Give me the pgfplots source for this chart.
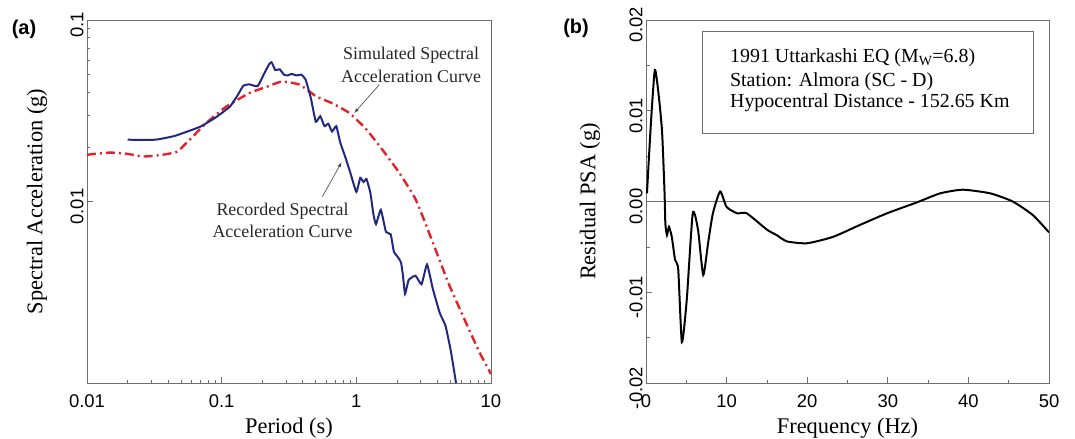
\documentclass[border=0pt]{standalone}
\usepackage{fontspec}
\setmainfont{Liberation Serif}
\setsansfont{Liberation Sans}
\usepackage{pgfplots}
\pgfplotsset{compat=1.18}

\definecolor{recblue}{RGB}{32,40,128}
\definecolor{simred}{RGB}{230,34,40}
\definecolor{axgray}{RGB}{110,110,110}

\pgfplotsset{
  panel/.style={
    scale only axis,
    width=404bp, height=363bp,
    axis line style={axgray, line width=0.9pt},
    tick style={axgray, line width=0.7pt},
    tick align=inside,
    tick pos=left,
    major tick length=6bp,
    minor tick length=3.5bp,
    /pgf/number format/assume math mode=true,
    ticklabel style={font=\fontsize{18.5}{18.5}\sffamily},
    xticklabel style={yshift=-8bp},
    yticklabel style={rotate=90, anchor=south, xshift=-5bp},
    label style={font=\fontsize{22.5}{23}\selectfont},
  },
}

\begin{document}
\begin{tikzpicture}
\path (0,0) rectangle (1075bp,439bp);

% (a) response spectra
\begin{axis}[panel,
  at={(87bp,56bp)}, anchor=south west,
  xmode=log, ymode=log,
  xmin=0.01, xmax=10, ymin=0.001, ymax=0.1,
  xtick={0.01,0.1,1,10}, xticklabels={0.01,0.1,1,10},
  ytick={0.01,0.1}, yticklabels={0.01,0.1},
  xlabel={Period (s)},
  ylabel={Spectral Acceleration (g)},
  xlabel style={at={(axis description cs:0.5,-0.124)}, anchor=center},
  ylabel style={at={(axis description cs:-0.124,0.5)}, anchor=center},
]
\addplot[simred, line width=2.4pt, dash pattern=on 9bp off 4bp on 2bp off 4bp, smooth, tension=0.3] coordinates {
(0.01,0.0181)(0.0148,0.0186)(0.02,0.0183)(0.026,0.0177)(0.0347,0.018)(0.0464,0.0188)
(0.0579,0.0219)(0.077,0.0271)(0.108,0.0333)(0.161,0.0396)(0.215,0.0428)(0.28,0.0458)
(0.38,0.044)(0.505,0.0379)(0.66,0.0348)(0.89,0.0307)(1.19,0.0249)(1.56,0.0193)
(2.07,0.0145)(2.77,0.0102)(3.68,0.006)(4.87,0.0035)(6.5,0.00216)(8.2,0.00148)(10,0.00112)
};
\addplot[recblue, line width=2pt, smooth, tension=0.25] coordinates {
(0.02,0.0219)(0.032,0.0219)(0.045,0.0230)(0.069,0.0258)(0.09,0.029)(0.115,0.0333)
(0.13,0.038)(0.145,0.0435)(0.16,0.0442)(0.185,0.0432)(0.205,0.050)(0.225,0.057)
(0.235,0.0585)(0.25,0.053)(0.27,0.0535)(0.29,0.050)(0.31,0.0495)(0.33,0.0505)
(0.36,0.0495)(0.39,0.050)(0.42,0.047)(0.46,0.037)(0.50,0.0275)(0.54,0.0295)
(0.58,0.026)(0.62,0.0268)(0.66,0.0243)(0.71,0.026)(0.76,0.0211)(0.83,0.0175)
(0.90,0.0145)(1.0,0.0113)(1.07,0.0135)(1.13,0.0128)(1.19,0.0133)(1.27,0.0112)
(1.34,0.0085)(1.40,0.0075)(1.52,0.0090)(1.66,0.0068)(1.80,0.0066)(1.90,0.0053)
(2.05,0.0049)(2.15,0.0046)(2.22,0.0039)(2.3,0.0031)(2.45,0.0037)(2.75,0.0039)
(3.05,0.0035)(3.35,0.0045)(3.7,0.0033)(4.15,0.00245)(4.6,0.00206)(5.05,0.00148)(5.5,0.001)
};
\node[align=center, font=\fontsize{18}{23}\selectfont, text=black!85] at (axis cs:2.55,0.0569)
  {Simulated Spectral\\Acceleration Curve};
\node[align=center, font=\fontsize{18}{23}\selectfont, text=black!85] at (axis cs:0.283,0.00787)
  {Recorded Spectral\\Acceleration Curve};
\draw[-latex, black!75, line width=0.6pt] (axis cs:1.48,0.044) -- (axis cs:0.967,0.0308);
\draw[-latex, black!75, line width=0.6pt] (axis cs:0.56,0.01064) -- (axis cs:0.775,0.0164);
\end{axis}

% (b) residuals
\begin{axis}[panel,
  at={(646bp,56bp)}, anchor=south west,
  width=403bp,
  xmin=0, xmax=50, ymin=-0.02, ymax=0.02,
  xtick={0,10,20,30,40,50},
  ytick={-0.02,-0.01,0,0.01,0.02},
  yticklabels={-0.02,-0.01,0.00,0.01,0.02},
  minor xtick={5,15,25,35,45},
  minor ytick={-0.015,-0.005,0.005,0.015},
  scaled y ticks=false,
  xlabel={Frequency (Hz)},
  ylabel={Residual PSA (g)},
  xlabel style={at={(axis description cs:0.5,-0.124)}, anchor=center},
  ylabel style={at={(axis description cs:-0.139,0.5)}, anchor=center},
]
\addplot[axgray, line width=0.8pt] coordinates {(0,0) (50,0)};
\addplot[black, line width=2pt, smooth, tension=0.35] coordinates {
(0.12,0.0009)(0.6,0.0085)(1.1,0.0145)(1.6,0.0115)(2.0,0.0076)(2.3,0.001)(2.4,-0.0024)
(2.6,-0.0037)(2.85,-0.0028)(3.2,-0.0039)(3.6,-0.0064)(4.0,-0.0075)(4.45,-0.0155)
(5.05,-0.0109)(5.8,-0.0013)(6.45,-0.0031)(7.1,-0.0081)(7.7,-0.0046)(8.3,-0.0013)
(9.2,0.0011)(10,-0.0006)(11.3,-0.0013)(12.5,-0.0013)(15,-0.0031)(16.2,-0.0037)
(17.5,-0.0044)(20,-0.0046)(23.2,-0.0039)(26.5,-0.0026)(29.9,-0.0013)(33.6,-0.0001)
(36.5,0.0009)(39.3,0.0013)(42.7,0.0009)(45.5,0)(48,-0.0015)(50,-0.0034)
};
\draw[axgray, line width=0.7pt] (axis cs:6.95,0.0187) rectangle (axis cs:48.1,0.00755);
\node[anchor=west, font=\fontsize{20}{20}\selectfont] at (axis cs:10.0,0.01581)
  {1991 Uttarkashi EQ (M\textsubscript{W}=6.8)};
\node[anchor=west, font=\fontsize{20}{20}\selectfont] at (axis cs:10.0,0.01317)
  {Station: Almora (SC - D)};
\node[anchor=west, font=\fontsize{20}{20}\selectfont] at (axis cs:10.0,0.01085)
  {Hypocentral Distance - 152.65 Km};
\end{axis}

\node[font=\fontsize{20}{20}\sffamily\bfseries] at (24bp,410bp) {(a)};
\node[font=\fontsize{20}{20}\sffamily\bfseries] at (576bp,411bp) {(b)};

\pgfresetboundingbox
\path[use as bounding box] (0,0) rectangle (1075bp,439bp);
\end{tikzpicture}
\end{document}
